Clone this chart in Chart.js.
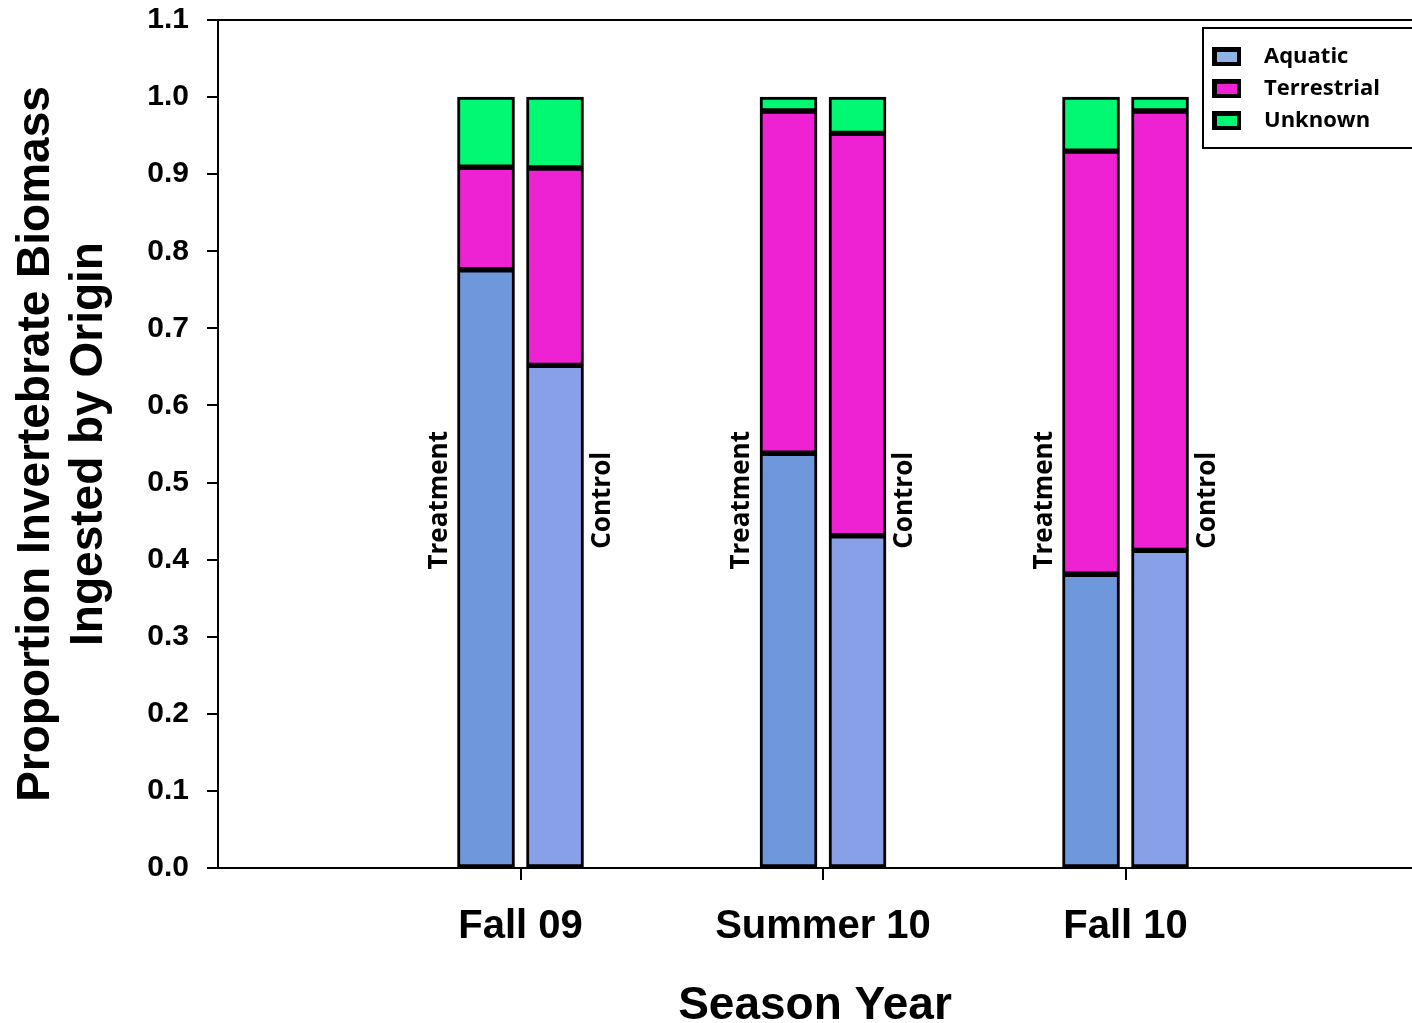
<!DOCTYPE html>
<html>
<head>
<meta charset="utf-8">
<script src="https://cdn.jsdelivr.net/npm/chart.js@4.4.0/dist/chart.umd.min.js"></script>
<style>
    body { margin: 0; background: #fff; }
</style>
</head>
<body>
<canvas id="myChart" width="1412" height="1023"></canvas>
<script>
// categories / groups / series
const seasons = ["Fall 09", "Summer 10", "Fall 10"];
const groups = ["Treatment", "Control"];
const origins = ["Aquatic", "Terrestrial", "Unknown"];
const yTickLabels = ["0.0", "0.1", "0.2", "0.3", "0.4", "0.5", "0.6", "0.7", "0.8", "0.9", "1.0", "1.1"];

const aquaticTreatment = [0.776, 0.538, 0.381];
const terrestrialTreatment = [0.133, 0.444, 0.549];
const unknownTreatment = [0.091, 0.018, 0.070];

const aquaticControl = [0.652, 0.431, 0.412];
const terrestrialControl = [0.256, 0.522, 0.570];
const unknownControl = [0.092, 0.047, 0.018];

const colors = {
    aquaticTreatment: "#6f97db",
    aquaticControl: "#87a0e8",
    terrestrial: "#ee22d2",
    unknown: "#00f873"
};
const legendColors = ["#8eb4e3", "#ee22d2", "#00f873"];

const font = "Liberation Sans";

function makeSet(label, values, color, stack) {
    return {
        label: label,
        data: values.map((v, i) => ({ x: i + 1, y: v })),
        backgroundColor: color,
        borderColor: "#000",
        borderWidth: 3,
        borderSkipped: false,
        stack: stack,
        barThickness: 69,
        maxBarThickness: 57
    };
}

const datasets = [
    makeSet(origins[0], aquaticTreatment, colors.aquaticTreatment, groups[0]),
    makeSet(origins[1], terrestrialTreatment, colors.terrestrial, groups[0]),
    makeSet(origins[2], unknownTreatment, colors.unknown, groups[0]),
    makeSet(origins[0], aquaticControl, colors.aquaticControl, groups[1]),
    makeSet(origins[1], terrestrialControl, colors.terrestrial, groups[1]),
    makeSet(origins[2], unknownControl, colors.unknown, groups[1])
];

// top frame line, Treatment/Control labels and the boxed legend
const extras = {
    id: "extras",
    afterDraw(chart) {
        const ctx = chart.ctx;
        const area = chart.chartArea;
        const yScale = chart.scales.y;
        ctx.save();

        ctx.strokeStyle = "#000";
        ctx.lineWidth = 2;
        ctx.beginPath();
        ctx.moveTo(area.left, area.top);
        ctx.lineTo(area.right, area.top);
        ctx.stroke();

        ctx.fillStyle = "#000";
        ctx.font = 'bold 26px "Open Sans"';
        ctx.textAlign = "center";
        ctx.textBaseline = "middle";
        const ly = yScale.getPixelForValue(0.477);
        const tMeta = chart.getDatasetMeta(0);
        const cMeta = chart.getDatasetMeta(3);
        seasons.forEach((s, i) => {
            const tb = tMeta.data[i];
            const cb = cMeta.data[i];
            drawUp(ctx, groups[0], tb.x - tb.width / 2 - 18, ly);
            drawUp(ctx, groups[1], cb.x + cb.width / 2 + 19, ly);
        });

        // legend
        const lx = area.left + 985;
        const ly0 = area.top + 8;
        ctx.lineWidth = 2;
        ctx.strokeRect(lx, ly0, 240, 120);
        ctx.font = 'bold 22px "Open Sans"';
        ctx.textAlign = "left";
        origins.forEach((o, i) => {
            const ry = ly0 + 28 + i * 32;
            ctx.fillStyle = "#000";
            ctx.fillRect(lx + 9, ry - 9, 29, 19);
            ctx.fillStyle = legendColors[i];
            ctx.fillRect(lx + 14, ry - 4, 20, 10);
            ctx.fillStyle = "#000";
            ctx.fillText(o, lx + 61, ry + 1);
        });
        ctx.restore();
    }
};

function drawUp(ctx, text, x, y) {
    ctx.save();
    ctx.translate(x, y);
    ctx.rotate(-Math.PI / 2);
    ctx.fillText(text, 0, 0);
    ctx.restore();
}

const ctx = document.getElementById("myChart").getContext("2d");
new Chart(ctx, {
    type: "bar",
    data: { datasets: datasets },
    options: {
        responsive: false,
        animation: false,
        devicePixelRatio: 1,
        layout: { padding: { top: 20, left: 0, right: 0, bottom: 0 } },
        plugins: {
            legend: { display: false },
            tooltip: { enabled: false }
        },
        scales: {
            x: {
                type: "linear",
                min: 0,
                max: 3.947,
                offset: false,
                stacked: true,
                afterBuildTicks: (s) => { s.ticks = seasons.map((_, i) => ({ value: i + 1 })); },
                afterFit: (s) => {
                    s.height = 155;
                    s.paddingLeft = 0;
                    s.paddingRight = 0;
                },
                grid: { offset: false, drawOnChartArea: false, drawTicks: true, tickLength: 12, color: "#000", lineWidth: 2 },
                border: { display: true, color: "#000", width: 2 },
                ticks: {
                    callback: (v, i) => seasons[i],
                    font: { family: font, size: 40, weight: "bold" },
                    color: "#000",
                    padding: 23,
                    maxRotation: 0,
                    autoSkip: false
                },
                title: {
                    display: true,
                    text: "Season Year",
                    color: "#000",
                    font: { family: font, size: 46, weight: "bold", lineHeight: 0.74 },
                    padding: 0
                }
            },
            y: {
                stacked: true,
                min: 0,
                max: 1.1,
                afterBuildTicks: (s) => { s.ticks = yTickLabels.map((t) => ({ value: parseFloat(t) })); },
                afterFit: (s) => {
                    s.width = 218;
                    s.paddingTop = 0;
                    s.paddingBottom = 0;
                },
                grid: { drawOnChartArea: false, drawTicks: true, tickLength: 11, color: "#000", lineWidth: 2 },
                border: { display: true, color: "#000", width: 2 },
                ticks: {
                    callback: (v, i) => yTickLabels[i],
                    font: { family: font, size: 30, weight: "bold" },
                    color: "#000",
                    padding: 18
                },
                title: {
                    display: true,
                    text: ["Proportion Invertebrate Biomass", "Ingested by Origin"],
                    color: "#000",
                    font: { family: font, size: 46, weight: "bold", lineHeight: 1.15 },
                    padding: { top: 10, bottom: 0 }
                }
            }
        }
    },
    plugins: [extras]
});
</script>
</body>
</html>
